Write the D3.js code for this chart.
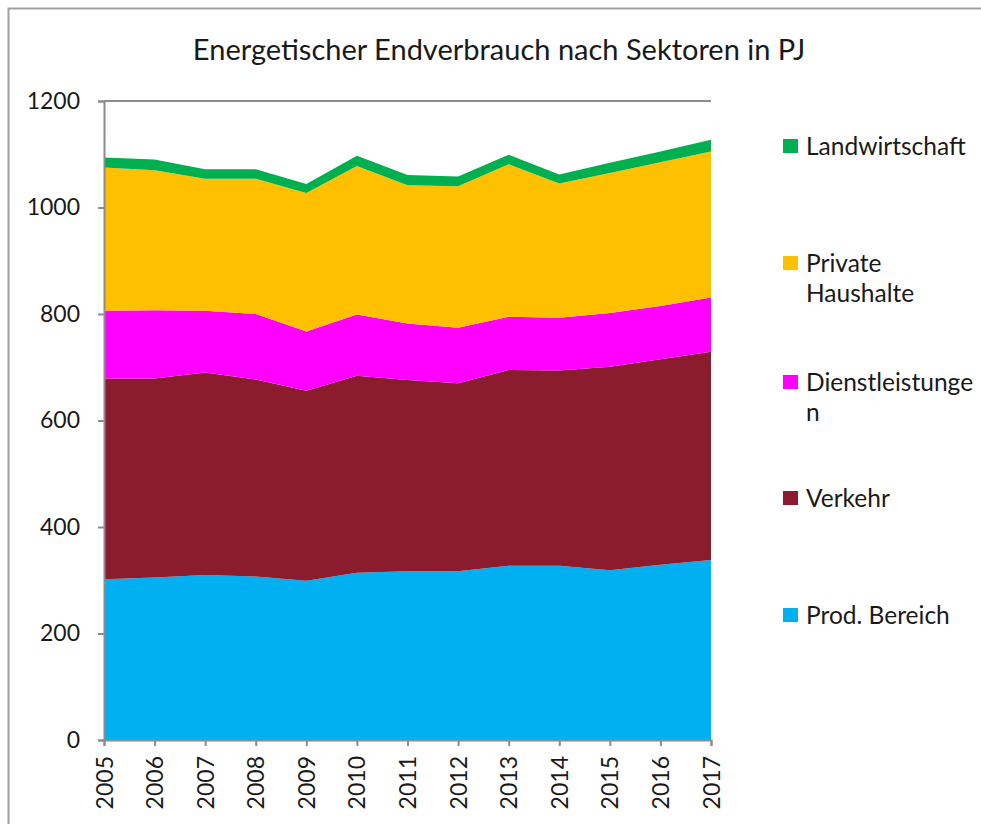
<!DOCTYPE html>
<html>
<head>
<meta charset="utf-8">
<script src="https://cdn.jsdelivr.net/npm/d3@7"></script>
<style>
  body { margin: 0; background: #fff; }
  text { font-family: Lato, "Open Sans", sans-serif; fill: #1a1a1a; }
</style>
</head>
<body>
<svg id="chart"></svg>
<script>
var width = 981;
var height = 824;

var years = [2005, 2006, 2007, 2008, 2009, 2010, 2011, 2012, 2013, 2014, 2015, 2016, 2017];

// PJ per sector, bottom to top
var prodBereich      = [302, 305, 310, 307, 299, 314, 317, 317, 327, 327, 319, 329, 338];
var verkehr          = [377, 374, 380, 370, 357, 370, 359, 353, 368, 367, 382, 386, 391];
var dienstleistungen = [127, 128, 116, 123, 111, 115, 106, 104, 100, 99, 101, 100, 102];
var privateHaushalte = [269, 263, 248, 254, 260, 279, 260, 266, 286, 252, 263, 270, 274];
var landwirtschaft   = [19, 20, 18, 18, 17, 19, 19, 18, 18, 17, 19, 20, 22];

var keys = ["prod", "verkehr", "dienst", "private", "landw"];
var labels = {
	prod: ["Prod. Bereich"],
	verkehr: ["Verkehr"],
	dienst: ["Dienstleistunge", "n"],
	private: ["Private", "Haushalte"],
	landw: ["Landwirtschaft"]
};
var colors = {
	prod: "#00b0f0",
	verkehr: "#8b1c2e",
	dienst: "#ff00ff",
	private: "#ffc000",
	landw: "#00b050"
};
var yTicks = [0, 200, 400, 600, 800, 1000, 1200];

var rows = years.map(function (y, i) {
	return {
		year: y,
		prod: prodBereich[i],
		verkehr: verkehr[i],
		dienst: dienstleistungen[i],
		private: privateHaushalte[i],
		landw: landwirtschaft[i]
	};
});

var svg = d3.select("#chart")
.attr("width", width)
.attr("height", height);

// outer frame (only left and top edges show)
svg.append("path")
.attr("d", "M8.5," + height + "V8.5H" + width)
.attr("fill", "none")
.attr("stroke", "#a0a0a0")
.attr("stroke-width", 2);

var x = d3.scaleLinear()
.domain([2005, 2017])
.range([104, 711]);

var y = d3.scaleLinear()
.domain([0, 1200])
.range([740, 101]);

var stack = d3.stack().keys(keys);
var series = stack(rows);

var area = d3.area()
.x(function (d) { return x(d.data.year); })
.y0(function (d) { return y(d[0]); })
.y1(function (d) { return y(d[1]); });

svg.append("g")
.selectAll("path")
.data(series)
.enter()
.append("path")
.attr("d", area)
.attr("fill", function (d) { return colors[d.key]; });

// top line at 1200
svg.append("line")
.attr("x1", x(2005))
.attr("x2", x(2017))
.attr("y1", y(1200))
.attr("y2", y(1200))
.attr("stroke", "#8c8c8c")
.attr("stroke-width", 2);

var yAxis = svg.append("g")
.attr("transform", "translate(" + x(2005) + ",0)")
.call(d3.axisLeft(y).tickValues(yTicks).tickSize(6).tickPadding(18).tickFormat(d3.format("d")));

var xAxis = svg.append("g")
.attr("transform", "translate(0," + y(0) + ")")
.call(d3.axisBottom(x).tickValues(years).tickSize(6).tickFormat(d3.format("d")));

[yAxis, xAxis].forEach(function (ax) {
	ax.select(".domain").attr("stroke", "#8c8c8c").attr("stroke-width", 2);
	ax.selectAll(".tick line").attr("stroke", "#8c8c8c").attr("stroke-width", 2);
	ax.selectAll("text")
	.style("font-family", "Lato, 'Open Sans', sans-serif")
	.style("font-size", "23px")
	.attr("fill", "#1a1a1a");
});

xAxis.selectAll("text")
.attr("transform", "rotate(-90)")
.attr("x", -16)
.attr("y", 0)
.attr("dy", "0.35em")
.style("text-anchor", "end");

// title
svg.append("text")
.attr("x", 499)
.attr("y", 60)
.style("text-anchor", "middle")
.style("font-size", "29px")
.text("Energetischer Endverbrauch nach Sektoren in PJ");

// legend, top to bottom
var legendY = { landw: 146, private: 263, dienst: 382, verkehr: 498, prod: 615 };

var legend = svg.append("g")
.selectAll("g")
.data(keys.slice().reverse())
.enter()
.append("g")
.attr("transform", function (d) { return "translate(783," + legendY[d] + ")"; });

legend.append("rect")
.attr("x", 0)
.attr("y", -7)
.attr("width", 15)
.attr("height", 14)
.attr("fill", function (d) { return colors[d]; });

legend.append("text")
.attr("x", 23)
.attr("y", 0)
.style("font-size", "24.5px")
.each(function (d) {
	var t = d3.select(this);
	labels[d].forEach(function (line, i) {
		t.append("tspan")
		.attr("x", 23)
		.attr("y", i * 30)
		.attr("dy", "0.35em")
		.text(line);
	});
});
</script>
</body>
</html>
